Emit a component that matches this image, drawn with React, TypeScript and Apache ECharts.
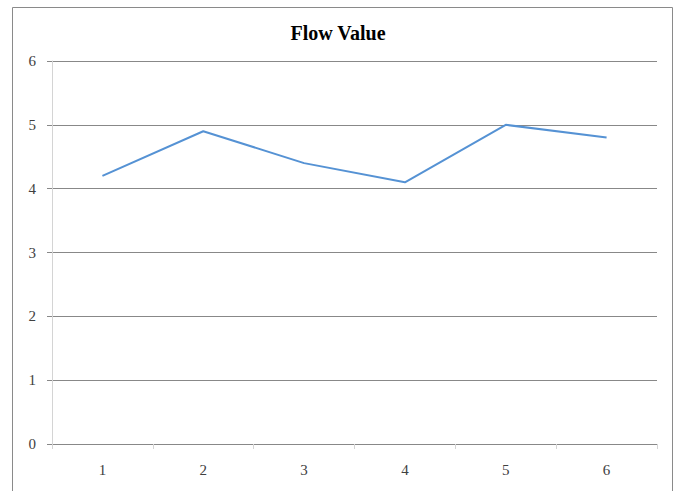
import React, { useEffect, useRef } from "react";
import * as echarts from "echarts";

const categories = ["1", "2", "3", "4", "5", "6"];
const flowValues = [4.2, 4.9, 4.4, 4.1, 5.0, 4.8];
const yMin = 0;
const yMax = 6;
const yStep = 1;

const serif = "'Liberation Serif', 'Times New Roman', serif";

export default function App() {
  const ref = useRef<HTMLDivElement>(null);

  useEffect(() => {
    if (!ref.current) return;
    const chart = echarts.init(ref.current, undefined, { renderer: "svg" });
    chart.setOption({
      animation: false,
      backgroundColor: "#ffffff",
      title: {
        text: "Flow Value",
        left: "center",
        top: 18,
        textStyle: {
          fontFamily: serif,
          fontWeight: "bold",
          fontSize: 20,
          color: "#000000",
        },
      },
      graphic: [
        {
          type: "rect",
          shape: { x: 12.5, y: 7.5, width: 660, height: 500 },
          style: { fill: "none", stroke: "#8a8a8a", lineWidth: 1 },
          silent: true,
        },
      ],
      grid: { left: 52, right: 19, top: 61, bottom: 47 },
      xAxis: {
        type: "category",
        data: categories,
        boundaryGap: true,
        axisLine: { lineStyle: { color: "#888888", width: 1 } },
        axisTick: {
          show: true,
          length: 5,
          alignWithLabel: false,
          lineStyle: { color: "#d4d4d4", width: 1 },
        },
        axisLabel: {
          margin: 18,
          fontFamily: serif,
          fontSize: 15,
          color: "#404040",
        },
        splitLine: { show: false },
      },
      yAxis: {
        type: "value",
        min: yMin,
        max: yMax,
        interval: yStep,
        axisLine: { show: true, lineStyle: { color: "#d4d4d4", width: 1 } },
        axisTick: {
          show: true,
          length: 5,
          lineStyle: { color: "#888888", width: 1 },
        },
        axisLabel: {
          margin: 16,
          fontFamily: serif,
          fontSize: 15,
          color: "#404040",
        },
        splitLine: { show: true, lineStyle: { color: "#888888", width: 1 } },
      },
      series: [
        {
          type: "line",
          name: "Flow Value",
          data: flowValues,
          symbol: "none",
          lineStyle: { color: "#5592d4", width: 2 },
        },
      ],
    });
    return () => chart.dispose();
  }, []);

  return <div ref={ref} style={{ width: 676, height: 491, position: "absolute", left: 0, top: 0 }} />;
}
